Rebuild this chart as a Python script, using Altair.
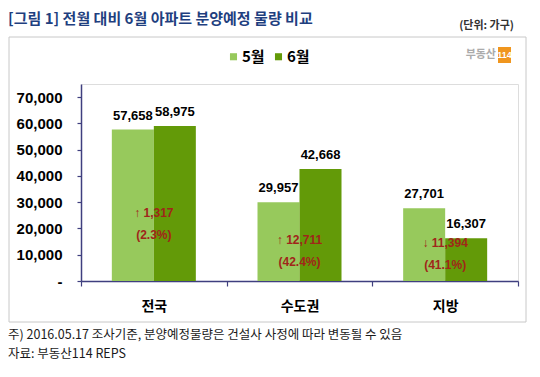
import altair as alt
import pandas as pd

regions = ["전국", "수도권", "지방"]
months = ["5월", "6월"]
may_values = [57658, 29957, 27701]
jun_values = [58975, 42668, 16307]
change_text = ["↑ 1,317", "↑ 12,711", "↓ 11,394"]
pct_text = ["(2.3%)", "(42.4%)", "(41.1%)"]
annot_y = [25900, 15600, 14500]
y_ticks = [0, 10000, 20000, 30000, 40000, 50000, 60000, 70000]
bar_colors = ["#97C95C", "#639A08"]
note_line = "주) 2016.05.17 조사기준, 분양예정물량은 건설사 사정에 따라 변동될 수 있음"
source_line = "자료: 부동산114 REPS"

rows = []
for i, r in enumerate(regions):
    rows.append({"region": r, "month": months[0], "value": may_values[i]})
    rows.append({"region": r, "month": months[1], "value": jun_values[i]})
df = pd.DataFrame(rows)
ann = pd.DataFrame({"region": regions, "change": change_text, "pct": pct_text, "ay": annot_y})
one = pd.DataFrame({"k": [0]})

NAVY = "#3F3F7F"
KR = "Noto Sans CJK KR"
NUM = "Liberation Sans"

x_axis = alt.Axis(title=None, labelAngle=0, labelFont=KR, labelFontSize=14,
                  labelFontWeight="bold", labelColor="#000000", labelPadding=13,
                  tickBand="extent", tickSize=5, tickColor=NAVY, domainColor=NAVY,
                  domainWidth=1.5, tickWidth=1.2)
y_axis = alt.Axis(title=None, values=y_ticks, grid=False, labelOverlap=False,
                  labelExpr="datum.value == 0 ? '-' : format(datum.value, ',')",
                  labelFont=NUM, labelFontSize=15, labelFontWeight="bold",
                  labelColor="#000000", labelPadding=15, tickSize=4,
                  tickColor=NAVY, domainColor=NAVY, domainWidth=1.5, tickWidth=1.2)
x_scale = alt.Scale(paddingInner=0, paddingOuter=0)
y_scale = alt.Scale(domain=[0, 75000], nice=False)


def xe():
    return alt.X("region:N", sort=regions, scale=x_scale, axis=x_axis)


def ye(field):
    return alt.Y(field, scale=y_scale, axis=y_axis)


xo_enc = alt.XOffset("month:N", sort=months, scale=alt.Scale(paddingInner=0, paddingOuter=0.734))

box = alt.Chart(one).mark_rect(fillOpacity=0, stroke="#C8C8C8", strokeWidth=1).encode(
    x=alt.value(-72), x2=alt.value(445), y=alt.value(-47), y2=alt.value(238))

bars = alt.Chart(df).mark_bar().encode(
    x=xe(), xOffset=xo_enc, y=ye("value:Q"),
    color=alt.Color("month:N", sort=months, scale=alt.Scale(domain=months, range=bar_colors),
                    legend=alt.Legend(title=None, orient="none", legendX=145, legendY=-35,
                                      direction="horizontal", symbolType="square",
                                      symbolSize=50, symbolStrokeWidth=0, labelFont=KR,
                                      labelFontSize=15, labelFontWeight="bold",
                                      labelColor="#000000", labelOffset=1, columnPadding=6,
                                      padding=0)))

labels = alt.Chart(df).mark_text(dy=-14, baseline="middle", font=NUM, fontSize=13,
                                 fontWeight="bold", color="#000000").encode(
    x=xe(), xOffset=xo_enc, y=ye("value:Q"), text=alt.Text("value:Q", format=","))

ann1 = alt.Chart(ann).mark_text(baseline="middle", font=NUM, fontSize=12, fontWeight="bold",
                                color="#A0261A").encode(
    x=xe(), y=ye("ay:Q"), text="change:N")
ann2 = alt.Chart(ann).mark_text(baseline="middle", dy=22, font=NUM, fontSize=12,
                                fontWeight="bold", color="#A0261A").encode(
    x=xe(), y=ye("ay:Q"), text="pct:N")

title = alt.Chart(one).mark_text(align="left", baseline="middle", font=KR, fontSize=15,
                                 fontWeight="bold", color="#1F3F7F").encode(
    x=alt.value(-73), y=alt.value(-65), text=alt.value("[그림 1] 전월 대비 6월 아파트 분양예정 물량 비교"))
unit = alt.Chart(one).mark_text(align="right", baseline="middle", font=KR, fontSize=11,
                                fontWeight="bold", color="#333333").encode(
    x=alt.value(433), y=alt.value(-58), text=alt.value("(단위: 가구)"))
logo_txt = alt.Chart(one).mark_text(align="right", baseline="middle", font=KR, fontSize=11,
                                    fontWeight="bold", color="#ABABAB").encode(
    x=alt.value(415), y=alt.value(-29), text=alt.value("부동산"))
logo_box = alt.Chart(one).mark_rect(fill="#F0961E").encode(
    x=alt.value(417), x2=alt.value(430), y=alt.value(-37), y2=alt.value(-21))
logo_num = alt.Chart(one).mark_text(align="center", baseline="middle", font=NUM, fontSize=9,
                                    fontWeight="bold", color="#FFFFFF").encode(
    x=alt.value(423.5), y=alt.value(-29), text=alt.value("114"))
foot1 = alt.Chart(one).mark_text(align="left", baseline="middle", font=KR, fontSize=12.5,
                                 color="#1A1A1A").encode(
    x=alt.value(-73), y=alt.value(251), text=alt.value(note_line))
foot2 = alt.Chart(one).mark_text(align="left", baseline="middle", font=KR, fontSize=12.5,
                                 color="#1A1A1A").encode(
    x=alt.value(-73), y=alt.value(270), text=alt.value(source_line))

chart = alt.layer(box, bars, labels, ann1, ann2, title, unit, logo_txt, logo_box, logo_num,
                  foot1, foot2).properties(
    width=437, height=197,
    autosize=alt.AutoSizeParams(type="none"),
    padding={"left": 73, "top": 76, "right": 14, "bottom": 88},
).configure_view(stroke=None).configure_axis(labelOverlap=False).configure(background="#FFFFFF")

chart.save("out.html", embed_options={"renderer": "svg", "actions": False})
